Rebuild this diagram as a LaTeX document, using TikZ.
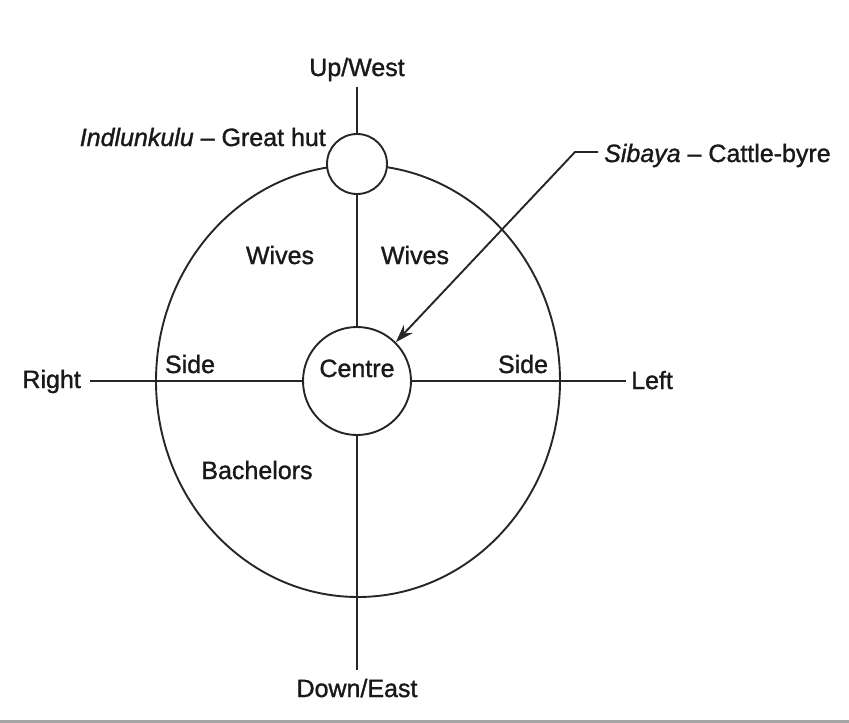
\documentclass[tikz,border=0pt]{standalone}
\usepackage{fontspec}
\setmainfont{Liberation Sans}[AutoFakeBold=1.2]
\newfontfamily\itbfont{Liberation Sans}[ItalicFeatures={FakeBold=1.2}]
\newcommand\itb[1]{{\itbfont\mdseries\itshape #1}}
\usetikzlibrary{shapes.geometric,arrows.meta}
\begin{document}
\begin{tikzpicture}[x=1pt,y=-1pt,
  ln/.style={line width=1.9pt, draw=black!85},
  lbl/.style={inner sep=0pt, anchor=base, text=black!90, font=\fontsize{25}{30}\selectfont\bfseries},
  ring/.style={circle, ln, fill=white, inner sep=0pt},
]
\useasboundingbox (0,0) rectangle (849,723);
\fill[white] (0,0) rectangle (849,723);
% shapes
\node[ellipse, ln, minimum width=404pt, minimum height=432pt, inner sep=0pt] (yard) at (358,381) {};
\node[ring, minimum size=60pt] (hut) at (357,164) {};
\node[ring, minimum size=108pt] (centre) at (357,381) {};
% labels
\node[lbl] (up) at (357,76) {Up/West};
\node[lbl] (down) at (357,697) {Down/East};
\node[lbl, anchor=base east] (right) at (81,388) {Right};
\node[lbl, anchor=base west] (left) at (631,389) {Left};
\node[lbl, anchor=base east] (great) at (326,146) {\itb{Indlunkulu} -- Great hut};
\node[lbl, anchor=base west] (sibaya) at (604,162) {\itb{Sibaya} -- Cattle-byre};
\node[lbl] (wivesL) at (280,264) {Wives};
\node[lbl] (wivesR) at (415,264) {Wives};
\node[lbl] (sideL) at (190,373) {Side};
\node[lbl] (sideR) at (523,373) {Side};
\node[lbl] (bach) at (257,479) {Bachelors};
\node[lbl] (ctext) at (357,377) {Centre};
% free ends
\coordinate (upend) at (357,87);
\coordinate (downend) at (357,670);
\coordinate (rightend) at (90,381);
\coordinate (leftend) at (626,381);
\coordinate (sibend) at (598,152);
\coordinate (sibknee) at (575,152);
% connectors
\draw[ln] (upend) -- (hut.north);
\draw[ln] (hut.south) -- (centre.north);
\draw[ln] (centre.south) -- (downend);
\draw[ln] (rightend) -- (centre.west);
\draw[ln] (centre.east) -- (leftend);
\draw[ln, -{Stealth[length=18pt,width=12pt]}] (sibend) -- (sibknee) -- (centre.45);
% bottom rule
\draw[gray!70, line width=3pt] (0,721.5) -- (849,721.5);
\end{tikzpicture}
\end{document}
